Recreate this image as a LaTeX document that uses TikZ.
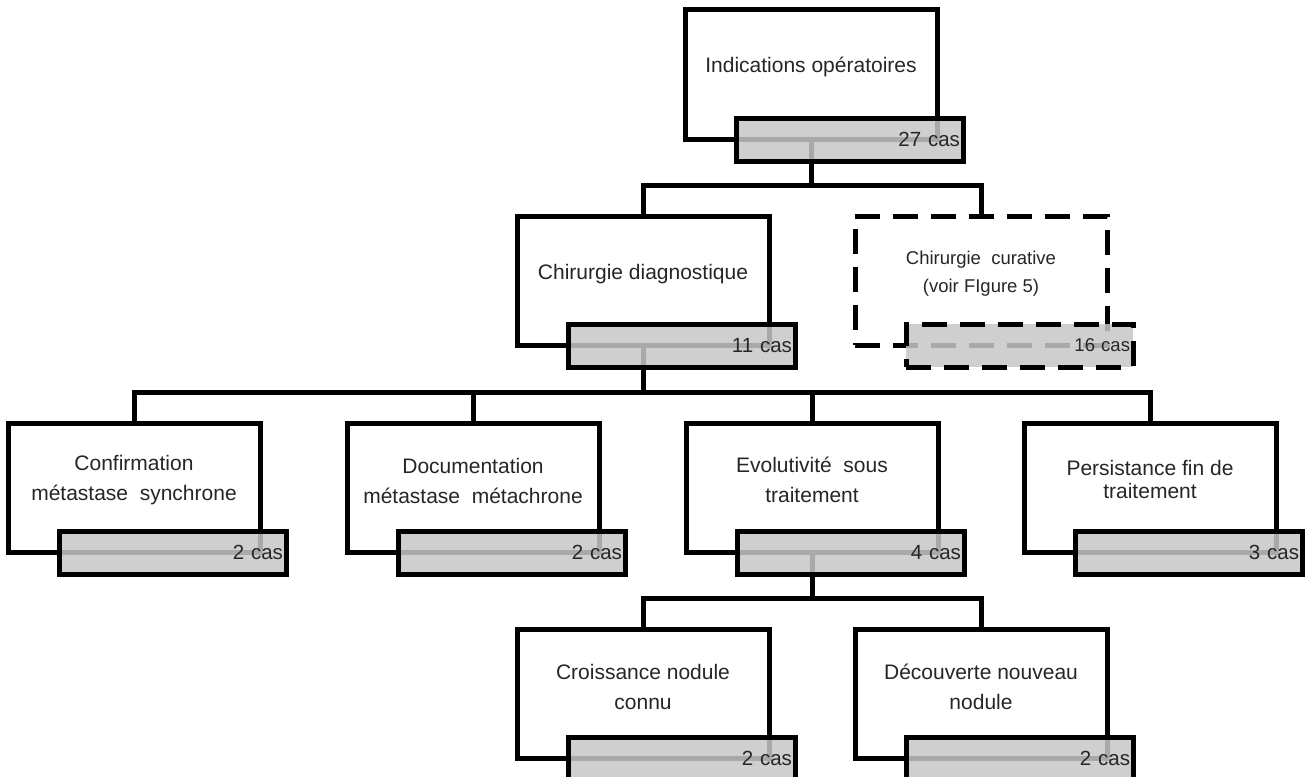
\documentclass[tikz,border=0pt]{standalone}
\usepackage{fontspec}
\setmainfont{Liberation Sans}
\usetikzlibrary{calc,positioning}

\begin{document}
\begin{tikzpicture}[x=1pt,y=-1pt,
  boite/.style={draw,line width=5pt,fill=white,minimum width=252pt,minimum height=129pt,
    anchor=north west,inner sep=0pt,outer sep=0pt},
  pointille/.style={boite,dash pattern=on 25pt off 13pt},
  texte/.style={align=center,text=black!85,inner sep=0pt,font=\fontsize{21}{30}\selectfont},
  onglet/.style={draw,line width=5pt,fill=black!22,fill opacity=.85,text opacity=1,
    minimum width=227pt,minimum height=43pt,text width=221pt,align=right,
    inner xsep=3pt,inner ysep=0pt,outer sep=0pt,anchor=north west,
    text=black!85,font=\fontsize{20.5}{24}\selectfont},
  lien/.style={line width=5pt}]
\useasboundingbox (0,0) rectangle (1308,776);

% boites
\node[boite] (ind) at (685,10) {};
\node[boite] (diag) at (517,216) {};
\node[pointille] (cur) at (855,216) {};
\node[boite] (conf) at (8,423) {};
\node[boite] (doc) at (347,423) {};
\node[boite] (evo) at (686,423) {};
\node[boite] (pers) at (1024,423) {};
\node[boite] (croi) at (517,629) {};
\node[boite] (dec) at (855,629) {};

\node[texte] (ind-t) at ($(ind.north)+(0,57)$) {Indications opératoires};
\node[texte] (diag-t) at ($(diag.north)+(0,58)$) {Chirurgie diagnostique};
\node[texte,font=\fontsize{18.5}{28}\selectfont] (cur-t) at ($(cur.north)+(0,58)$) {Chirurgie\ \ curative\\(voir FIgure 5)};
\node[texte] (conf-t) at ($(conf.north)+(0,57)$) {Confirmation\\métastase\ \ synchrone};
\node[texte] (doc-t) at ($(doc.north)+(0,58)$) {Documentation\\métastase\ \ métachrone};
\node[texte] (evo-t) at ($(evo.north)+(0,57)$) {Evolutivité\ \ sous\\traitement};
\node[texte,font=\fontsize{21}{23}\selectfont] (pers-t) at ($(pers.north)+(0,56)$) {Persistance fin de\\traitement};
\node[texte] (croi-t) at ($(croi.north)+(0,58)$) {Croissance nodule\\connu};
\node[texte] (dec-t) at ($(dec.north)+(0,58)$) {Découverte nouveau\\nodule};

% liens
\draw[lien] (ind.south) -- ++(0,46) -| (diag.north);
\draw[lien] (ind.south) -- ++(0,46) -| (cur.north);
\foreach \b in {conf,doc,evo,pers}
  \draw[lien] (diag.south) -- ++(0,47) -| (\b.north);
\draw[lien] (evo.south) -- ++(0,46) -| (croi.north);
\draw[lien] (evo.south) -- ++(0,46) -| (dec.north);

% onglets
\node[onglet] (ind-n) at ($(ind.south west)+(51,-21)$) {27 cas};
\node[onglet] (diag-n) at ($(diag.south west)+(51,-21)$) {11 cas};
\node[onglet,dash pattern=on 25pt off 13pt,font=\fontsize{18.5}{22}\selectfont] (cur-n) at ($(cur.south west)+(51,-21)$) {16 cas};
\node[onglet] (conf-n) at ($(conf.south west)+(51,-21)$) {2 cas};
\node[onglet] (doc-n) at ($(doc.south west)+(51,-21)$) {2 cas};
\node[onglet] (evo-n) at ($(evo.south west)+(51,-21)$) {4 cas};
\node[onglet] (pers-n) at ($(pers.south west)+(51,-21)$) {3 cas};
\node[onglet] (croi-n) at ($(croi.south west)+(51,-21)$) {2 cas};
\node[onglet] (dec-n) at ($(dec.south west)+(51,-21)$) {2 cas};
\end{tikzpicture}
\end{document}
